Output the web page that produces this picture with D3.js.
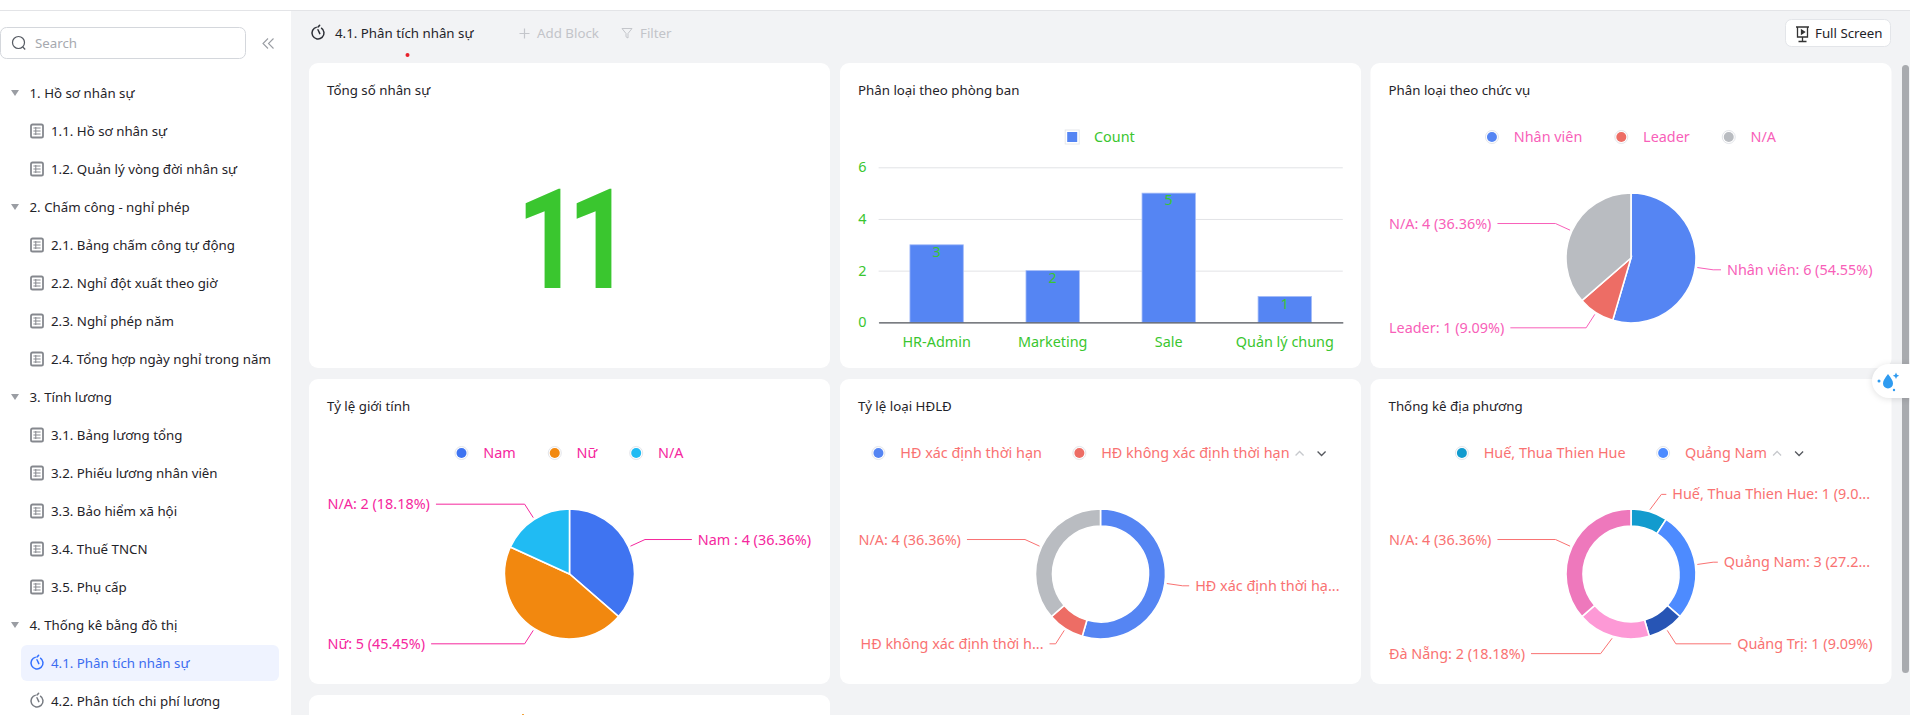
<!DOCTYPE html>
<html><head><meta charset="utf-8">
<script src="https://cdn.jsdelivr.net/npm/d3@7"></script>
<style>
html,body{margin:0;padding:0;background:#f2f3f5;overflow:hidden}
svg{display:block}
text{font-family:"Noto Sans",sans-serif;font-size:13.3px}
.chart text{font-size:14.4px}
</style></head><body>
<svg id="page" width="1910" height="715"></svg>
<script>
// ---------- navigation ----------
const navGroups = ["1. Hồ sơ nhân sự","2. Chấm công - nghỉ phép","3. Tính lương","4. Thống kê bằng đồ thị"];
const navItems = [
  ["1.1. Hồ sơ nhân sự","1.2. Quản lý vòng đời nhân sự"],
  ["2.1. Bảng chấm công tự động","2.2. Nghỉ đột xuất theo giờ","2.3. Nghỉ phép năm","2.4. Tổng hợp ngày nghỉ trong năm"],
  ["3.1. Bảng lương tổng","3.2. Phiếu lương nhân viên","3.3. Bảo hiểm xã hội","3.4. Thuế TNCN","3.5. Phụ cấp"],
  ["4.1. Phân tích nhân sự","4.2. Phân tích chi phí lương"]
];
const activeItem = "4.1. Phân tích nhân sự";
const cardTitles = ["Tổng số nhân sự","Phân loại theo phòng ban","Phân loại theo chức vụ","Tỷ lệ giới tính","Tỷ lệ loại HĐLĐ","Thống kê địa phương"];

// ---------- data ----------
const totalStaff = 11;
const deptCategories = ["HR-Admin","Marketing","Sale","Quản lý chung"];
const deptValues = [3,2,5,1];
const deptTicks = [0,2,4,6];

const roleCategories = ["Nhân viên","Leader","N/A"];
const roleValues = [6,1,4];
const roleLabels = ["Nhân viên: 6 (54.55%)","Leader: 1 (9.09%)","N/A: 4 (36.36%)"];
const roleColors = ["#5585f3","#ed6d65","#b9bcc1"];

const genderCategories = ["Nam","Nữ","N/A"];
const genderValues = [4,5,2];
const genderLabels = ["Nam : 4 (36.36%)","Nữ: 5 (45.45%)","N/A: 2 (18.18%)"];
const genderColors = ["#3f74f1","#f2880f","#20bbf3"];

const contractCategories = ["HĐ xác định thời hạn","HĐ không xác định thời hạn"];
const contractValues = [6,1,4];
const contractLabels = ["HĐ xác định thời hạ...","HĐ không xác định thời h...","N/A: 4 (36.36%)"];
const contractColors = ["#5585f3","#ed6d65","#b9bcc1"];

const placeCategories = ["Huế, Thua Thien Hue","Quảng Nam"];
const placeValues = [1,3,1,2,4];
const placeLabels = ["Huế, Thua Thien Hue: 1 (9.0...","Quảng Nam: 3 (27.2...","Quảng Trị: 1 (9.09%)","Đà Nẵng: 2 (18.18%)","N/A: 4 (36.36%)"];
const placeColors = ["#129bce","#4d8bff","#2755b5","#fd99d6","#ee78bc"];

// ---------- palette ----------
const ink="#1f2329", green="#3ac62f", pageBg="#f2f3f5";
const svg=d3.select("#page");
svg.append("rect").attr("width",1910).attr("height",715).attr("fill",pageBg);
svg.append("rect").attr("width",1910).attr("height",10).attr("fill","#fff");
svg.append("rect").attr("y",10).attr("width",1910).attr("height",1).attr("fill","#e3e4e7");
svg.append("rect").attr("y",11).attr("width",291).attr("height",704).attr("fill","#fff");

function label(g,x,y,t,fill,anchor){
  return g.append("text").attr("x",x).attr("y",y).attr("dy","0.35em").attr("fill",fill||ink)
    .attr("text-anchor",anchor||"start").text(t);
}
function clockIcon(g,x,y,c){
  const i=g.append("g").attr("transform",`translate(${x},${y})`).attr("fill","none").attr("stroke",c).attr("stroke-width",1.5).attr("stroke-linecap","round");
  i.append("path").attr("d",d3.arc()({innerRadius:6,outerRadius:6,startAngle:0.55,endAngle:2*Math.PI-0.2}));
  i.append("path").attr("d","M0,-3.2L1.8,0.6");
  i.append("path").attr("d","M0,-6L1.6,-7.6");
}
function tableIcon(g,x,y){
  const i=g.append("g").attr("transform",`translate(${x},${y})`).attr("fill","none").attr("stroke","#85888e");
  i.append("rect").attr("x",-6).attr("y",-6.5).attr("width",12).attr("height",13).attr("rx",1.6).attr("stroke-width",1.8);
  i.append("path").attr("d","M-3.6,-3H3.6M-3.6,0H3.6M-3.6,3H3.6M-1.2,-4V4").attr("stroke-width",1);
}

// ---------- sidebar ----------
const nav=svg.append("g");
nav.append("rect").attr("x",0.5).attr("y",27.5).attr("width",245).attr("height",31).attr("rx",6).attr("fill","#fff").attr("stroke","#d4d7dc");
nav.append("circle").attr("cx",18.5).attr("cy",42.5).attr("r",6).attr("fill","none").attr("stroke","#555a62").attr("stroke-width",1.2);
nav.append("path").attr("d","M22.8,47L25.2,49.5").attr("stroke","#555a62").attr("stroke-width",1.2);
label(nav,35,43,"Search","#a6a9af");
nav.append("path").attr("d","M268,38.5L263,43.5L268,48.5M273.5,38.5L268.5,43.5L273.5,48.5").attr("fill","none").attr("stroke","#9a9da3").attr("stroke-width",1.1);
let rowY=93;
navGroups.forEach((grp,gi)=>{
  nav.append("path").attr("d",`M11,${rowY-3}h8l-4,6z`).attr("fill","#9a9da3");
  label(nav,29.5,rowY,grp);
  rowY+=38;
  navItems[gi].forEach(it=>{
    const isDash=gi===3, on=it===activeItem;
    if(on) nav.append("rect").attr("x",21).attr("y",rowY-18).attr("width",258).attr("height",36).attr("rx",6).attr("fill","#eff3ff");
    if(isDash) clockIcon(nav,37,rowY,on?"#3370ff":"#777b82"); else tableIcon(nav,37,rowY);
    label(nav,51,rowY,it,on?"#3b6cf0":ink);
    rowY+=38;
  });
});

// ---------- header ----------
const head=svg.append("g");
clockIcon(head,318,33,"#2c2f36");
label(head,335,33,activeItem);
head.append("path").attr("d","M519.5,33.5h10M524.5,28.5v10").attr("stroke","#c4c6cb").attr("stroke-width",1.2);
label(head,537,33,"Add Block","#c2c4c9");
head.append("path").attr("d","M622,28.5h10l-4,5v4.5l-2,-1.2v-3.3z").attr("fill","none").attr("stroke","#c4c6cb");
label(head,640,33,"Filter","#c2c4c9");
head.append("circle").attr("cx",407.5).attr("cy",55).attr("r",2).attr("fill","#e8202a");
head.append("rect").attr("x",1785.5).attr("y",19.5).attr("width",105).attr("height",27).attr("rx",6).attr("fill","#fff").attr("stroke","#e3e5e9");
const fs=head.append("g").attr("fill","none").attr("stroke","#333").attr("stroke-width",1.3);
fs.append("path").attr("d","M1796,27h13M1797.5,27v10h10v-10M1802.5,37v4M1798.5,41.5h8");
fs.append("path").attr("d","M1801.5,30l3,2l-3,2z").attr("fill","#333");
label(head,1815,33,"Full Screen");

// ---------- cards ----------
const colX=[309,840,1370.5], rowTop=[63,379,695], cardW=521, cardH=305;
const cardAt=i=>({x:colX[i%3],y:rowTop[Math.floor(i/3)]});
const cards=svg.append("g");
[0,1,2,3,4,5,6].forEach(i=>{
  const c=cardAt(i);
  cards.append("rect").attr("x",c.x).attr("y",c.y).attr("width",cardW).attr("height",cardH).attr("rx",9).attr("fill","#fff");
  if(cardTitles[i]) label(cards,c.x+18,c.y+27,cardTitles[i]);
});
cards.append("rect").attr("x",522).attr("y",714).attr("width",2).attr("height",1).attr("fill","#f2a33a");

// Card 1: big number
svg.append("text").attr("transform",`translate(${cardAt(0).x+207.5},288) scale(0.8,1)`)
  .style("font-family","Roboto,sans-serif").style("font-size","140px").style("font-weight",700)
  .style("letter-spacing","-16.7px").attr("fill",green).text(totalStaff);

const chart=svg.append("g").attr("class","chart");

// Legend helper
function legend(card,cats,colors,textColor,shape,pager){
  const g=chart.append("g");
  let x=0;
  cats.forEach((c,i)=>{
    if(shape==="square"){
      g.append("rect").attr("x",x-7).attr("y",-7).attr("width",14).attr("height",14).attr("fill","#fff").attr("stroke","#e6e8ec");
      g.append("rect").attr("x",x-5).attr("y",-5).attr("width",10).attr("height",10).attr("fill",colors[i]);
    } else {
      g.append("circle").attr("cx",x).attr("r",6.5).attr("fill","#fff").attr("stroke","#e3e5ea");
      g.append("circle").attr("cx",x).attr("r",5).attr("fill",colors[i]);
    }
    const t=label(g,x+21.8,0,c,textColor);
    x+=21.8+t.node().getComputedTextLength()+(i<cats.length-1?(pager?37.5:39):0);
  });
  if(pager){
    g.append("path").attr("d",`M${x+6},2.5l4,-4l4,4`).attr("fill","none").attr("stroke","#c7c9cd").attr("stroke-width",1.3);
    g.append("path").attr("d",`M${x+28},-1.5l4,4l4,-4`).attr("fill","none").attr("stroke","#55585e").attr("stroke-width",1.3);
    x+=36;
  }
  const left=card.x+cardW/2-(x+6)/2+6-(pager?1.5:0);
  g.attr("transform",`translate(${left},${card.y+74})`);
}

// Card 2: bar chart
(function(){
  const c=cardAt(1);
  const x=d3.scaleBand().domain(deptCategories).range([c.x+38.6,c.x+502.8]).paddingInner(0.54).paddingOuter(0.27);
  const y=d3.scaleLinear().domain([0,6]).range([c.y+259.3,c.y+104.3]);
  legend(c,["Count"],["#5585f3"],green,"square");
  const gy=chart.append("g").attr("transform",`translate(${c.x+38.6},0)`)
    .call(d3.axisLeft(y).tickValues(deptTicks).tickSize(-464.2).tickPadding(12).tickFormat(d3.format("d")));
  gy.select(".domain").remove();
  gy.selectAll("line").attr("stroke","#e2e3e6");
  gy.selectAll("text").attr("fill",green);
  chart.append("g").selectAll("rect").data(deptValues).join("rect")
    .attr("x",(d,i)=>x(deptCategories[i])).attr("width",x.bandwidth())
    .attr("y",d=>y(d)).attr("height",d=>y(0)-y(d))
    .attr("fill","#5585f3").attr("stroke","#a3bbf8").attr("stroke-width",0.8);
  chart.append("g").selectAll("text").data(deptValues).join("text")
    .attr("x",(d,i)=>x(deptCategories[i])+x.bandwidth()/2).attr("y",d=>y(d)+7).attr("dy","0.35em")
    .attr("text-anchor","middle").attr("fill",green).text(d=>d);
  const gx=chart.append("g").attr("transform",`translate(0,${y(0)})`)
    .call(d3.axisBottom(x).tickSize(0).tickPadding(14));
  gx.select(".domain").attr("stroke","#55585e").attr("stroke-width",1.2);
  gx.selectAll("text").attr("fill",green);
})();

// Pie / donut helper
function pieChart(card,values,labels,colors,textColor,inner){
  const cx=card.x+cardW/2, cy=card.y+195, R=65;
  const arcs=d3.pie().sort(null).startAngle(0).endAngle(2*Math.PI)(values);
  const arc=d3.arc().innerRadius(inner).outerRadius(R);
  const g=chart.append("g").attr("transform",`translate(${cx},${cy})`);
  g.selectAll("path").data(arcs).join("path").attr("d",arc)
    .attr("fill",(d,i)=>colors[i]).attr("stroke","#fff").attr("stroke-width",1.6);
  const line=d3.line();
  arcs.forEach((a,i)=>{
    const m=(a.startAngle+a.endAngle)/2, s=Math.sin(m), k=Math.cos(m);
    const p0=[(R+2)*s,-(R+2)*k];
    const run=Math.abs(s)<0.4?11.5:16*Math.abs(s);
    const p1=[p0[0]+Math.sign(s)*run,-(R+18)*k];
    const right=s>0, cut=labels[i].endsWith("...");
    const edge=right?card.x+cardW-19-(cut?2.5:0):card.x+18.5+(cut?2:0);
    const t=g.append("text").attr("x",edge-cx).attr("y",p1[1]).attr("dy","0.35em")
      .attr("text-anchor",right?"end":"start").attr("fill",textColor).text(labels[i]);
    const w=t.node().getComputedTextLength();
    const endX=(right?edge-w-6:edge+w+6)-cx;
    g.append("path").attr("d",line([p0,p1,[endX,p1[1]]])).attr("fill","none").attr("stroke",textColor).attr("stroke-width",1);
  });
}
legend(cardAt(2),roleCategories,roleColors,"#f85fb9","circle");
pieChart(cardAt(2),roleValues,roleLabels,roleColors,"#f85fb9",0);
legend(cardAt(3),genderCategories,genderColors,"#f5279e","circle");
pieChart(cardAt(3),genderValues,genderLabels,genderColors,"#f5279e",0);
legend(cardAt(4),contractCategories,contractColors,"#f97272","circle",true);
pieChart(cardAt(4),contractValues,contractLabels,contractColors,"#f97272",48);
legend(cardAt(5),placeCategories,placeColors,"#f97272","circle",true);
pieChart(cardAt(5),placeValues,placeLabels,placeColors,"#f97272",48);

// Scrollbar & floating assistant
svg.append("rect").attr("x",1902).attr("y",65).attr("width",7).attr("height",608).attr("rx",3.5).attr("fill","#a9abaf");
svg.append("path").attr("d","M1912,364H1889a17,17 0 0 0 0,34H1912z").attr("fill","#fff").style("filter","drop-shadow(0 1px 3px rgba(0,0,0,.12))");
const drop=svg.append("g").attr("fill","#2f9bf0");
drop.append("path").attr("d","M1888,374c3,4 5,6.5 5,9.5a5,5 0 0 1 -10,0c0,-3 2,-5.5 5,-9.5z");
drop.append("path").attr("d","M1896,372.5l1,2.2 2.2,1 -2.2,1 -1,2.2 -1,-2.2 -2.2,-1 2.2,-1z");
drop.append("circle").attr("cx",1879).attr("cy",381).attr("r",1.5);
drop.append("circle").attr("cx",1894).attr("cy",390).attr("r",1.2);
</script>
</body></html>
